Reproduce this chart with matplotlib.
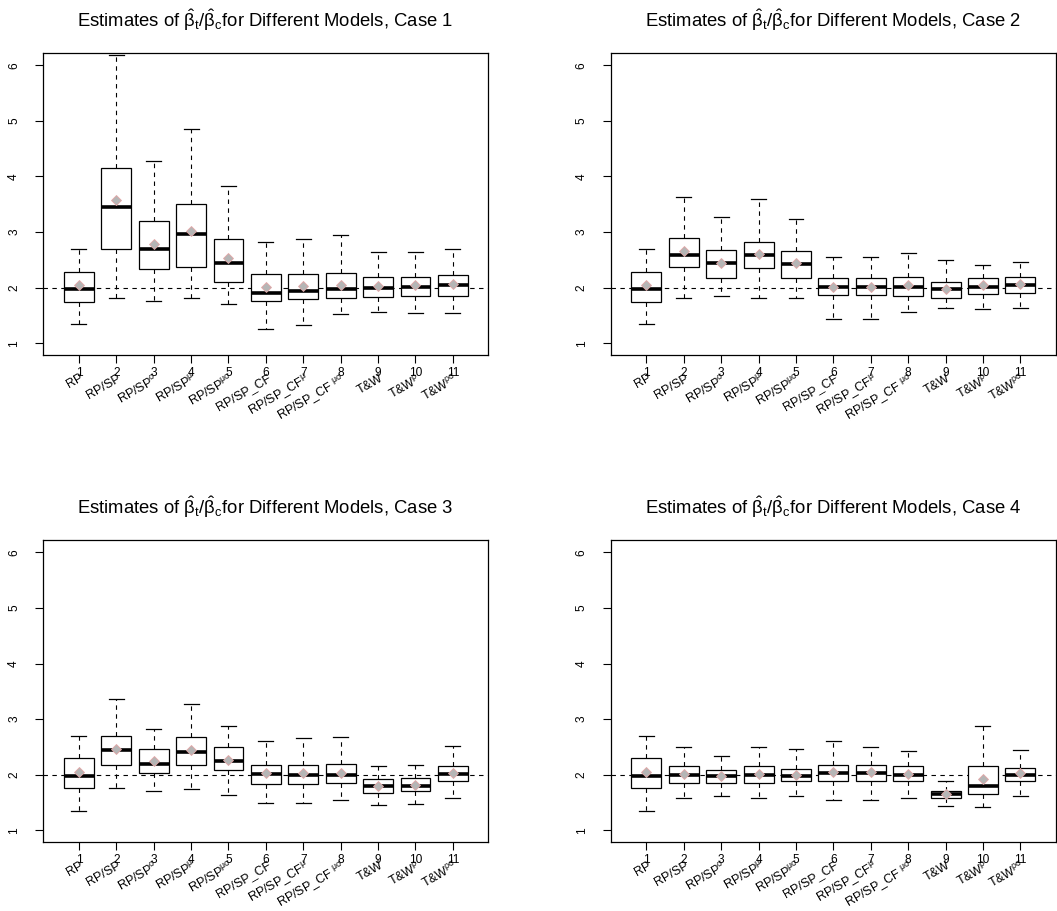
import numpy as np
import matplotlib
matplotlib.use('Agg')
import matplotlib.pyplot as plt
from matplotlib.transforms import offset_copy

plt.rcParams['font.family'] = ['Liberation Sans', 'DejaVu Sans']
plt.rcParams['mathtext.fontset'] = 'custom'
plt.rcParams['mathtext.rm'] = 'Liberation Sans'
plt.rcParams['mathtext.it'] = 'Liberation Sans'
plt.rcParams['mathtext.bf'] = 'Liberation Sans:bold'
plt.rcParams['mathtext.sf'] = 'Liberation Sans'
plt.rcParams['mathtext.default'] = 'regular'

# model names shown under each box
nombres = ['RP', 'RP/SP', r'RP/SP$^{\sigma}$', r'RP/SP$^{\mu}$', r'RP/SP$^{\mu\sigma}$',
           'RP/SP_CF', r'RP/SP_CF$^{\mu}$', r'RP/SP_CF $^{\mu\sigma}$',
           'T&W', r'T&W$^{\rho}$', r'T&W$^{\rho\sigma}$']
posiciones = np.arange(1, 12)

# CASE 1
lo1   = [1.35, 1.82, 1.76, 1.82, 1.70, 1.26, 1.33, 1.53, 1.56, 1.54, 1.54]
q1_1  = [1.75, 2.70, 2.33, 2.38, 2.10, 1.77, 1.80, 1.82, 1.84, 1.86, 1.86]
med1  = [1.98, 3.45, 2.70, 2.96, 2.45, 1.91, 1.94, 1.97, 2.00, 2.02, 2.05]
q3_1  = [2.29, 4.16, 3.20, 3.50, 2.87, 2.24, 2.24, 2.27, 2.20, 2.20, 2.23]
hi1   = [2.70, 6.18, 4.27, 4.85, 3.83, 2.82, 2.87, 2.94, 2.64, 2.64, 2.70]
mean1 = [2.04, 3.57, 2.79, 3.02, 2.53, 2.01, 2.03, 2.04, 2.03, 2.04, 2.07]

# CASE 2
lo2   = [1.35, 1.82, 1.86, 1.82, 1.82, 1.44, 1.44, 1.57, 1.63, 1.61, 1.63]
q1_2  = [1.75, 2.37, 2.17, 2.35, 2.17, 1.87, 1.87, 1.86, 1.82, 1.89, 1.90]
med2  = [1.98, 2.59, 2.44, 2.58, 2.42, 2.01, 2.01, 2.01, 1.98, 2.02, 2.04]
q3_2  = [2.29, 2.90, 2.68, 2.83, 2.66, 2.17, 2.17, 2.20, 2.11, 2.17, 2.19]
hi2   = [2.70, 3.64, 3.27, 3.59, 3.24, 2.55, 2.55, 2.62, 2.50, 2.40, 2.47]
mean2 = [2.04, 2.66, 2.45, 2.61, 2.45, 2.02, 2.02, 2.04, 1.98, 2.04, 2.06]

# CASE 3
lo3   = [1.35, 1.76, 1.71, 1.74, 1.63, 1.50, 1.50, 1.54, 1.46, 1.47, 1.58]
q1_3  = [1.76, 2.18, 2.03, 2.18, 2.09, 1.84, 1.84, 1.86, 1.68, 1.70, 1.88]
med3  = [1.98, 2.44, 2.20, 2.41, 2.25, 2.01, 2.00, 2.00, 1.79, 1.79, 2.01]
q3_3  = [2.30, 2.69, 2.47, 2.67, 2.50, 2.17, 2.17, 2.20, 1.93, 1.94, 2.15]
hi3   = [2.70, 3.36, 2.83, 3.27, 2.87, 2.61, 2.66, 2.68, 2.15, 2.17, 2.52]
mean3 = [2.05, 2.47, 2.25, 2.44, 2.27, 2.04, 2.04, 2.03, 1.80, 1.82, 2.04]

# CASE 4
lo4   = [1.35, 1.58, 1.61, 1.58, 1.61, 1.54, 1.54, 1.58, 1.44, 1.42, 1.61]
q1_4  = [1.76, 1.86, 1.86, 1.86, 1.88, 1.89, 1.89, 1.88, 1.58, 1.65, 1.88]
med4  = [1.98, 2.00, 1.98, 2.00, 1.98, 2.03, 2.03, 2.00, 1.65, 1.79, 2.00]
q3_4  = [2.30, 2.15, 2.08, 2.15, 2.11, 2.17, 2.17, 2.15, 1.70, 2.15, 2.13]
hi4   = [2.70, 2.49, 2.34, 2.49, 2.46, 2.61, 2.49, 2.43, 1.89, 2.87, 2.45]
mean4 = [2.05, 2.01, 1.98, 2.01, 2.00, 2.05, 2.05, 2.01, 1.65, 1.92, 2.03]

casos = [
    (lo1, q1_1, med1, q3_1, hi1, mean1),
    (lo2, q1_2, med2, q3_2, hi2, mean2),
    (lo3, q1_3, med3, q3_3, hi3, mean3),
    (lo4, q1_4, med4, q3_4, hi4, mean4),
]

# GRAFICA
fig = plt.figure(figsize=(10.57, 9.11), dpi=100)
rects = [[0.0407, 0.6103, 0.421, 0.3315],
         [0.5776, 0.6103, 0.421, 0.3315],
         [0.0407, 0.0757, 0.421, 0.3315],
         [0.5776, 0.0757, 0.421, 0.3315]]

for k, (lo, q1, med, q3, hi, media) in enumerate(casos):
    ax = fig.add_axes(rects[k])
    stats = []
    for i in range(len(nombres)):
        stats.append({'whislo': lo[i], 'q1': q1[i], 'med': med[i],
                      'q3': q3[i], 'whishi': hi[i], 'fliers': []})
    ax.bxp(stats, positions=posiciones, widths=0.8, capwidths=0.4,
           showfliers=False, patch_artist=True,
           boxprops=dict(facecolor='white', edgecolor='black', linewidth=0.9),
           medianprops=dict(color='black', linewidth=2.6, solid_capstyle='butt'),
           whiskerprops=dict(color='black', linewidth=0.8, linestyle=(0, (4, 4))),
           capprops=dict(color='black', linewidth=0.9))
    ax.axhline(2, color='black', linewidth=0.8, linestyle=(0, (4, 4)), zorder=1)
    ax.plot(posiciones, media, 'D', ms=5, mfc='#b5b5b5', mec='#e3a6a6', mew=0.6, zorder=5)

    ax.set_xlim(0.04, 11.94)
    ax.set_ylim(0.79, 6.22)
    ax.set_yticks([1, 2, 3, 4, 5, 6])
    ax.set_yticklabels(['1', '2', '3', '4', '5', '6'], rotation=90, va='center')
    ax.set_xticks(posiciones)
    ax.set_xticklabels([str(p) for p in posiciones])
    ax.tick_params(axis='y', length=5.5, width=0.8, labelsize=8.6, pad=11)
    ax.tick_params(axis='x', length=5.5, width=0.8, labelsize=8.6, pad=3)
    for s in ax.spines.values():
        s.set_linewidth(0.9)

    tr = offset_copy(ax.get_xaxis_transform(), fig=fig, x=1, y=-17, units='dots')
    for p, nom in zip(posiciones, nombres):
        ax.text(p, 0, nom, transform=tr, rotation=30, rotation_mode='anchor',
                ha='right', va='top', fontsize=9)

    ax.set_title(r'Estimates of $\hat{\beta}_t/\hat{\beta}_c$for Different Models, Case %d' % (k + 1),
                 fontsize=13.3, pad=19)

fig.savefig('out.png', dpi=100)
